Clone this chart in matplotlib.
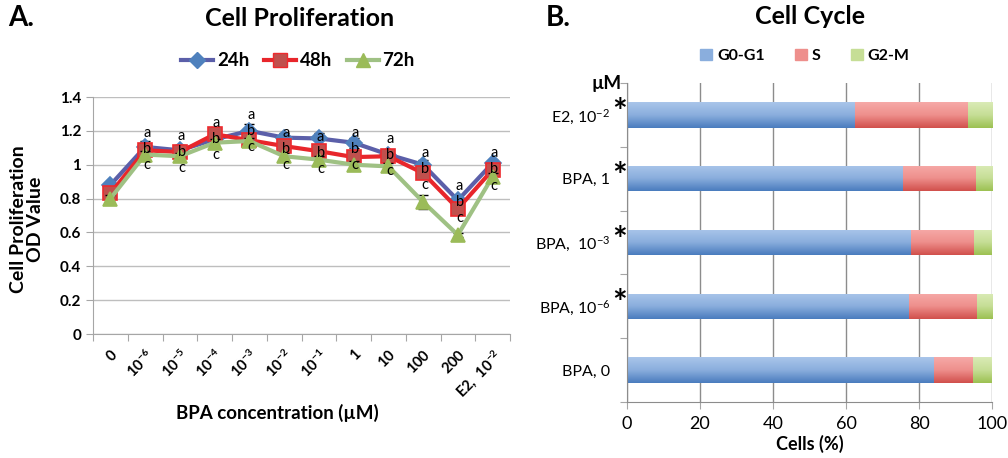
import matplotlib
matplotlib.use('Agg')
import matplotlib.pyplot as plt
import numpy as np
from matplotlib.colors import LinearSegmentedColormap
from matplotlib.patches import Patch
from matplotlib.lines import Line2D
import matplotlib.transforms as mtransforms

# ---- panel A data ----
conc_labels = ['0', '10^{-6}', '10^{-5}', '10^{-4}', '10^{-3}', '10^{-2}', '10^{-1}',
               '1', '10', '100', '200', 'E2,\\ 10^{-2}']
od_24h = [0.88, 1.105, 1.085, 1.15, 1.20, 1.16, 1.155, 1.13, 1.06, 1.00, 0.79, 1.01]
od_48h = [0.83, 1.085, 1.075, 1.18, 1.145, 1.11, 1.08, 1.045, 1.05, 0.95, 0.74, 0.97]
od_72h = [0.80, 1.06, 1.05, 1.13, 1.14, 1.05, 1.03, 1.00, 0.99, 0.78, 0.585, 0.93]
err_24h = [0.02, 0.035, 0.03, 0.02, 0.04, 0.03, 0.03, 0.03, 0.02, 0.03, 0.02, 0.02]
err_48h = [0.02, 0.02, 0.02, 0.02, 0.02, 0.02, 0.02, 0.02, 0.03, 0.02, 0.02, 0.02]
err_72h = [0.02, 0.02, 0.02, 0.02, 0.02, 0.02, 0.02, 0.02, 0.02, 0.04, 0.01, 0.02]
# height of the "a" letter; "b" and "c" sit below it
letter_top = [None, 1.19, 1.17, 1.245, 1.294, 1.19, 1.162, 1.189, 1.15, 1.071, 0.874, 1.067]

# ---- panel B data ----
cycle_groups = ['BPA, 0', 'BPA, 10$^{-6}$', 'BPA,  10$^{-3}$', 'BPA, 1', 'E2, 10$^{-2}$']
g0g1 = [84.1, 77.3, 77.7, 75.7, 62.5]
s_phase = [10.8, 18.5, 17.4, 19.8, 30.8]
g2m = [5.1, 4.2, 4.9, 4.5, 6.7]
significant = [False, True, True, True, True]

plt.rcParams['font.family'] = ['Lato', 'DejaVu Sans']
plt.rcParams['mathtext.fontset'] = 'custom'
plt.rcParams['mathtext.rm'] = 'Lato'
plt.rcParams['mathtext.bf'] = 'Lato:bold'
plt.rcParams['mathtext.default'] = 'regular'

fig = plt.figure(figsize=(10.08, 4.58), dpi=100)
W, H = 1008.0, 458.0
ax1 = fig.add_axes([93/W, 1-334/H, (510-93)/W, (334-97)/H])
ax2 = fig.add_axes([627/W, 1-402/H, (992-627)/W, (402-83)/H])

axis_grey = '#A6A6A6'
grid_grey = '#BEBEBE'

# ---------------- panel A ----------------
x = np.arange(len(conc_labels))
series = [
    ('24h', od_24h, err_24h, '#5B5FA9', 'D', '#4F81BD', '#4F81BD', 8),
    ('48h', od_48h, err_48h, '#E8262B', 's', '#C0504D', '#EE2A2E', 9.5),
    ('72h', od_72h, err_72h, '#9FC184', '^', '#9BBB59', '#9BBB59', 10),
]
handles = []
for n, (name, vals, err, lc, mk, mfc, mec, ms) in enumerate(series):
    ax1.errorbar(x, vals, yerr=err, fmt='none', ecolor='black', elinewidth=0.8, capsize=3.5,
                 capthick=1, zorder=2.9 + n)
    ax1.plot(x, vals, color=lc, lw=3, marker=mk, ms=ms, mfc=mfc, mec=mec, mew=1.2, zorder=3 + n)
    handles.append(Line2D([], [], color=lc, lw=3, marker=mk, ms=ms, mfc=mfc, mec=mec, label=name))

for i, top in enumerate(letter_top):
    if top is None:
        continue
    for k, letter in enumerate('abc'):
        ax1.text(x[i] + 0.05, top - 0.095 * k, letter, ha='center', va='center', fontsize=10.5, zorder=8)

ax1.set_xlim(-0.5, len(conc_labels) - 0.5)
ax1.set_ylim(0, 1.4)
ax1.set_yticks(np.arange(0, 1.41, 0.2))
ax1.set_yticklabels(['0', '0.2', '0.4', '0.6', '0.8', '1', '1.2', '1.4'], fontweight='bold', fontsize=11)
ax1.set_xticks(np.arange(-0.5, len(conc_labels), 1))
ax1.set_xticklabels([])
ax1.set_xticks(x, minor=True)
ax1.set_xticklabels([r'$\mathbf{' + l + '}$' for l in conc_labels], minor=True, rotation=45,
                    ha='right', rotation_mode='anchor', fontsize=10.5)
ax1.tick_params(axis='x', which='minor', length=0, pad=9)
ax1.tick_params(axis='both', which='major', length=5, color=axis_grey, direction='out')
ax1.yaxis.grid(True, color=grid_grey, lw=1)
ax1.set_axisbelow(True)
for sp in ['top', 'right']:
    ax1.spines[sp].set_visible(False)
for sp in ['left', 'bottom']:
    ax1.spines[sp].set_color(axis_grey)

fig.legend(handles=handles, loc='center', bbox_to_anchor=(298/W, 1-61/H), ncol=3, frameon=False,
           prop={'weight': 'bold', 'size': 13.5}, handlelength=1.7, columnspacing=0.8, handletextpad=0.2)

fig.text(277/W, 1-413/H, 'BPA concentration (\u00b5M)', ha='center', va='center', fontsize=13.5,
         fontweight='bold')
fig.text(27/W, 1-219/H, 'Cell Proliferation\nOD Value', ha='center', va='center', rotation=90,
         fontsize=14, fontweight='bold', linespacing=1.05)
fig.text(300/W, 1-18/H, 'Cell Proliferation', ha='center', va='center', fontsize=18, fontweight='bold')
fig.text(8/W, 1-18/H, 'A.', ha='left', va='center', fontsize=20, fontweight='bold')

# ---------------- panel B ----------------
y = np.arange(len(cycle_groups))
phases = [
    ('G0-G1', g0g1, '#8AAEDD', '#A9C5EA', '#4A7CBE'),
    ('S', s_phase, '#EE8F8C', '#F6A9A7', '#D1504C'),
    ('G2-M', g2m, '#C6DE96', '#DAEBB6', '#9CC152'),
]
left = np.zeros(len(y))
grad = np.linspace(0, 1, 64).reshape(-1, 1)
for name, vals, mid, top_c, bot_c in phases:
    bars = ax2.barh(y, vals, left=left, height=0.4, color=mid, zorder=2, lw=0)
    cmap = LinearSegmentedColormap.from_list(name, [bot_c, mid, top_c])
    for b in bars:
        im = ax2.imshow(grad, extent=[b.get_x(), b.get_x() + b.get_width(), b.get_y(), b.get_y() + b.get_height()],
                        aspect='auto', cmap=cmap, origin='lower', zorder=2.5)
        im.set_clip_path(b)
    left = left + np.array(vals)

ax2.set_xlim(0, 100)
ax2.set_ylim(-0.5, len(y) - 0.5)
ax2.set_xticks(np.arange(0, 101, 20))
ax2.set_xticklabels(['0', '20', '40', '60', '80', '100'], fontsize=13)
ax2.set_yticks(np.arange(-0.5, len(y), 1))
ax2.set_yticklabels([])
ax2.set_yticks(y, minor=True)
ax2.set_yticklabels(cycle_groups, minor=True, fontsize=11.5)
ax2.tick_params(axis='y', which='minor', length=0, pad=12)
ax2.tick_params(axis='both', which='major', length=5, color=axis_grey, direction='out')
ax2.tick_params(axis='x', pad=5)
ax2.xaxis.grid(True, color='#8C8C8C', lw=1)
ax2.set_axisbelow(True)
for sp in ['top', 'right']:
    ax2.spines[sp].set_visible(False)
for sp in ['left', 'bottom']:
    ax2.spines[sp].set_color('#8C8C8C')

trans = mtransforms.blended_transform_factory(ax2.transAxes, ax2.transData)
for yi, sig in zip(y, significant):
    if sig:
        ax2.text(-0.02, yi + 0.03, '*', transform=trans, ha='center', va='center', fontsize=25,
                 fontweight='bold')
ax2.text(-0.014, 1.0, '\u00b5M', transform=ax2.transAxes, ha='right', va='center', fontsize=13.5,
         fontweight='bold')

ax2.set_xlabel('Cells (%)', fontsize=13, fontweight='bold', labelpad=2)

leg_handles = [Patch(color=c, label=n) for n, _, c, _, _ in phases]
fig.legend(handles=leg_handles, loc='center', bbox_to_anchor=(805/W, 1-56/H), ncol=3, frameon=False,
           prop={'weight': 'bold', 'size': 11.5}, handlelength=0.75, handleheight=0.75,
           columnspacing=1.9, handletextpad=0.3)

fig.text(810/W, 1-16/H, 'Cell Cycle', ha='center', va='center', fontsize=18, fontweight='bold')
fig.text(546/W, 1-18/H, 'B.', ha='left', va='center', fontsize=20, fontweight='bold')

plt.savefig('out.png', dpi=100)
